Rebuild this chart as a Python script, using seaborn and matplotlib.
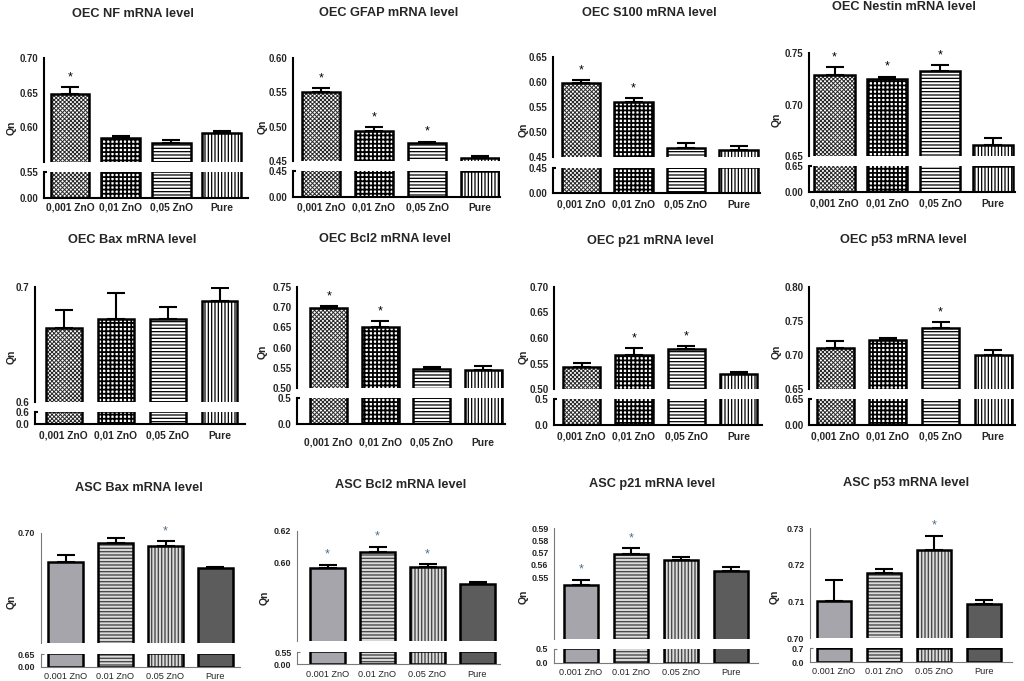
import numpy as np
import pandas as pd
import matplotlib
matplotlib.use("Agg")
import matplotlib.pyplot as plt
from matplotlib.colors import to_rgba
import seaborn as sns

# ---------------- data ----------------
categories_oec = ["0,001 ZnO", "0,01 ZnO", "0,05 ZnO", "Pure"]
categories_asc = ["0.001 ZnO", "0.01 ZnO", "0.05 ZnO", "Pure"]

# OEC NF
nf_mean = [0.648, 0.584, 0.578, 0.592]
nf_sem = [0.010, 0.003, 0.004, 0.002]
nf_sig = [1, 0, 0, 0]
nf_top_ticks = [0.55, 0.60, 0.65, 0.70]
nf_top_labels = ["", "0.60", "0.65", "0.70"]
nf_bot_ticks = [0.00, 0.55]
nf_bot_labels = ["0.00", "0.55"]

# OEC GFAP
gfap_mean = [0.550, 0.494, 0.476, 0.455]
gfap_sem = [0.006, 0.005, 0.002, 0.003]
gfap_sig = [1, 1, 1, 0]
gfap_top_ticks = [0.45, 0.50, 0.55, 0.60]
gfap_top_labels = ["0.45", "0.50", "0.55", "0.60"]
gfap_bot_ticks = [0.00, 0.45]
gfap_bot_labels = ["0.00", "0.45"]

# OEC S100
s100_mean = [0.599, 0.561, 0.469, 0.464]
s100_sem = [0.005, 0.007, 0.010, 0.008]
s100_sig = [1, 1, 0, 0]
s100_top_ticks = [0.45, 0.50, 0.55, 0.60, 0.65]
s100_top_labels = ["0.45", "0.50", "0.55", "0.60", "0.65"]
s100_bot_ticks = [0.00, 0.45]
s100_bot_labels = ["0.00", "0.45"]

# OEC Nestin
nestin_mean = [0.729, 0.725, 0.733, 0.661]
nestin_sem = [0.007, 0.002, 0.005, 0.006]
nestin_sig = [1, 1, 1, 0]
nestin_top_ticks = [0.65, 0.70, 0.75]
nestin_top_labels = ["0.65", "0.70", "0.75"]
nestin_bot_ticks = [0.00, 0.65]
nestin_bot_labels = ["0.00", "0.65"]

# OEC Bax
obax_mean = [0.664, 0.672, 0.672, 0.688]
obax_sem = [0.016, 0.023, 0.011, 0.011]
obax_sig = [0, 0, 0, 0]
obax_top_ticks = [0.6, 0.7]
obax_top_labels = ["0.6", "0.7"]
obax_bot_ticks = [0.0, 0.6]
obax_bot_labels = ["0.0", "0.6"]

# OEC Bcl2
obcl2_mean = [0.697, 0.651, 0.547, 0.544]
obcl2_sem = [0.005, 0.015, 0.006, 0.010]
obcl2_sig = [1, 1, 0, 0]
obcl2_top_ticks = [0.50, 0.55, 0.60, 0.65, 0.70, 0.75]
obcl2_top_labels = ["0.50", "0.55", "0.60", "0.65", "0.70", "0.75"]
obcl2_bot_ticks = [0.0, 0.5]
obcl2_bot_labels = ["0.0", "0.5"]

# OEC p21
op21_mean = [0.544, 0.566, 0.578, 0.529]
op21_sem = [0.007, 0.014, 0.006, 0.004]
op21_sig = [0, 1, 1, 0]
op21_top_ticks = [0.50, 0.55, 0.60, 0.65, 0.70]
op21_top_labels = ["0.50", "0.55", "0.60", "0.65", "0.70"]
op21_bot_ticks = [0.0, 0.5]
op21_bot_labels = ["0.0", "0.5"]

# OEC p53
op53_mean = [0.711, 0.722, 0.740, 0.700]
op53_sem = [0.009, 0.003, 0.008, 0.008]
op53_sig = [0, 0, 1, 0]
op53_top_ticks = [0.65, 0.70, 0.75, 0.80]
op53_top_labels = ["0.65", "0.70", "0.75", "0.80"]
op53_bot_ticks = [0.00, 0.65]
op53_bot_labels = ["0.00", "0.65"]

# ASC Bax
abax_mean = [0.6866, 0.6955, 0.6943, 0.6839]
abax_sem = [0.0033, 0.0024, 0.0019, 0.0006]
abax_sig = [0, 0, 1, 0]
abax_top_ticks = [0.65, 0.70]
abax_top_labels = ["", "0.70"]
abax_bot_ticks = [0.00, 0.65]
abax_bot_labels = ["0.00", "0.65"]

# ASC Bcl2
abcl2_mean = [0.5964, 0.6065, 0.5968, 0.5861]
abcl2_sem = [0.0021, 0.0034, 0.0022, 0.0017]
abcl2_sig = [1, 1, 1, 0]
abcl2_top_ticks = [0.55, 0.60, 0.62]
abcl2_top_labels = ["", "0.60", "0.62"]
abcl2_bot_ticks = [0.00, 0.55]
abcl2_bot_labels = ["0.00", "0.55"]

# ASC p21
ap21_mean = [0.5441, 0.5689, 0.5638, 0.5554]
ap21_sem = [0.0040, 0.0049, 0.0030, 0.0032]
ap21_sig = [1, 1, 0, 0]
ap21_top_ticks = [0.50, 0.55, 0.56, 0.57, 0.58, 0.59]
ap21_top_labels = ["", "0.55", "0.56", "0.57", "0.58", "0.59"]
ap21_bot_ticks = [0.0, 0.5]
ap21_bot_labels = ["0.0", "0.5"]

# ASC p53
ap53_mean = [0.7102, 0.7177, 0.7239, 0.7093]
ap53_sem = [0.0056, 0.0012, 0.0040, 0.0011]
ap53_sig = [0, 0, 1, 0]
ap53_top_ticks = [0.70, 0.71, 0.72, 0.73]
ap53_top_labels = ["0.70", "0.71", "0.72", "0.73"]
ap53_bot_ticks = [0.0, 0.7]
ap53_bot_labels = ["0.0", "0.7"]

panels = [
    ("OEC NF mRNA level", categories_oec, nf_mean, nf_sem, nf_sig, nf_top_ticks, nf_top_labels, nf_bot_ticks, nf_bot_labels, "oec"),
    ("OEC GFAP mRNA level", categories_oec, gfap_mean, gfap_sem, gfap_sig, gfap_top_ticks, gfap_top_labels, gfap_bot_ticks, gfap_bot_labels, "oec"),
    ("OEC S100 mRNA level", categories_oec, s100_mean, s100_sem, s100_sig, s100_top_ticks, s100_top_labels, s100_bot_ticks, s100_bot_labels, "oec"),
    ("OEC Nestin mRNA level", categories_oec, nestin_mean, nestin_sem, nestin_sig, nestin_top_ticks, nestin_top_labels, nestin_bot_ticks, nestin_bot_labels, "oec"),
    ("OEC Bax mRNA level", categories_oec, obax_mean, obax_sem, obax_sig, obax_top_ticks, obax_top_labels, obax_bot_ticks, obax_bot_labels, "oec"),
    ("OEC Bcl2 mRNA level", categories_oec, obcl2_mean, obcl2_sem, obcl2_sig, obcl2_top_ticks, obcl2_top_labels, obcl2_bot_ticks, obcl2_bot_labels, "oec"),
    ("OEC p21 mRNA level", categories_oec, op21_mean, op21_sem, op21_sig, op21_top_ticks, op21_top_labels, op21_bot_ticks, op21_bot_labels, "oec"),
    ("OEC p53 mRNA level", categories_oec, op53_mean, op53_sem, op53_sig, op53_top_ticks, op53_top_labels, op53_bot_ticks, op53_bot_labels, "oec"),
    ("ASC Bax mRNA level", categories_asc, abax_mean, abax_sem, abax_sig, abax_top_ticks, abax_top_labels, abax_bot_ticks, abax_bot_labels, "asc"),
    ("ASC Bcl2 mRNA level", categories_asc, abcl2_mean, abcl2_sem, abcl2_sig, abcl2_top_ticks, abcl2_top_labels, abcl2_bot_ticks, abcl2_bot_labels, "asc"),
    ("ASC p21 mRNA level", categories_asc, ap21_mean, ap21_sem, ap21_sig, ap21_top_ticks, ap21_top_labels, ap21_bot_ticks, ap21_bot_labels, "asc"),
    ("ASC p53 mRNA level", categories_asc, ap53_mean, ap53_sem, ap53_sig, ap53_top_ticks, ap53_top_labels, ap53_bot_ticks, ap53_bot_labels, "asc"),
]

# ---------------- layout (pixels) ----------------
# x0, x1, first bar centre, spacing, bar width, top(yt,yb), bottom(yt,yb), title(x,y), Qn(x,y), xlabel y
layout = [
    (44, 248, 70.0, 50.6, 0.77, 58, 162, 172, 198, 133, 14, 12, 128, 207),
    (293, 500, 321.0, 53.0, 0.72, 58, 161, 171, 197, 389, 13, 263, 127, 207),
    (553, 760, 581.0, 52.5, 0.73, 57, 157, 168, 193, 649, 13, 524, 130, 204),
    (809, 1015, 834.5, 52.8, 0.76, 53, 156, 166, 192, 904, 7, 777, 120, 203),
    (35, 245, 63.8, 51.9, 0.69, 287, 402, 412, 424, 132, 240, 12, 357, 435),
    (297, 505, 328.8, 51.5, 0.72, 287, 388, 398, 424, 385, 239, 263, 352, 442),
    (554, 762, 581.7, 52.3, 0.71, 287, 389, 399, 425, 650, 241, 524, 357, 436),
    (809, 1015, 835.3, 52.6, 0.70, 287, 389, 399, 425, 903, 240, 777, 352, 436),
    (41, 240, 65.5, 50.0, 0.69, 533, 643, 654, 667, 139, 488, 12, 602, 676),
    (297, 500, 327.5, 50.0, 0.70, 531, 641, 652, 664, 401, 485, 265, 598, 674),
    (554, 758, 581.0, 50.0, 0.69, 528, 639, 649, 663, 652, 484, 524, 597, 672),
    (810, 1012, 834.0, 50.0, 0.69, 528, 638, 648, 662, 906, 483, 775, 597, 671),
]

W, H = 1024, 681
sns.set_style("white")
plt.rcParams["font.family"] = ["Liberation Sans", "DejaVu Sans"]
plt.rcParams["hatch.linewidth"] = 0.9

fig = plt.figure(figsize=(W / 100, H / 100), dpi=100)


def rect(x0, x1, yt, yb):
    return [x0 / W, 1 - yb / H, (x1 - x0) / W, (yb - yt) / H]


oec_styles = [
    dict(fc="white", hatch="xxxxxxxx", hc="#2a2a2a", hlw=0.7),
    dict(fc="white", hatch="++++", hc="black", hlw=1.3),
    dict(fc="white", hatch="-----", hc="black", hlw=0.9),
    dict(fc="white", hatch="|||||", hc="black", hlw=0.9),
]
asc_styles = [
    dict(fc="#a6a5ab", hatch=None, hc=None, hlw=None),
    dict(fc="#dcdcdc", hatch="-----", hc="#4a4a4a", hlw=1.0),
    dict(fc="#dcdcdc", hatch="|||||", hc="#4a4a4a", hlw=1.0),
    dict(fc="#5c5c5c", hatch=None, hc=None, hlw=None),
]


def style_bar(p, st, lw):
    p.set_facecolor(st["fc"])
    p.set_edgecolor("black")
    p.set_linewidth(lw)
    if st["hatch"]:
        p.set_hatch(st["hatch"])
        try:
            p.set_hatchcolor(st["hc"])
        except AttributeError:
            p._hatch_color = to_rgba(st["hc"])
        try:
            p.set_hatch_linewidth(st["hlw"])
        except AttributeError:
            pass


for panel, lay in zip(panels, layout):
    (title, cats, mean, sem, sig, tt, tl, bt, bl, kind) = panel
    (x0, x1, c0, s, bw, tyt, tyb, byt, byb, tx, ty, qx, qy, xly) = lay
    asc = kind == "asc"
    styles = asc_styles if asc else oec_styles
    spine_col = "#7a7a7a" if asc else "black"
    spine_lw = 0.8 if asc else 1.5
    bar_lw = 1.8
    ytick_fs = 6.4 if asc else (6.9 if tyt < 100 else 7.1)
    xtick_fs = 6.6 if asc else 7.4
    xlim = ((x0 - c0) / s, (x1 - c0) / s)

    df = pd.DataFrame({"group": cats, "Qn": mean})
    ax_t = fig.add_axes(rect(x0, x1, tyt, tyb))
    ax_b = fig.add_axes(rect(x0, x1, byt, byb))
    for ax in (ax_t, ax_b):
        sns.barplot(data=df, x="group", y="Qn", order=cats, ax=ax, width=bw,
                    color="white", edgecolor="black", linewidth=bar_lw,
                    errorbar=None)
        for p, st in zip(ax.patches, styles):
            style_bar(p, st, bar_lw)
        ax.set_xlim(*xlim)
        ax.set_xlabel("")
        ax.set_ylabel("")
        ax.set_facecolor("none")
        for side in ("top", "right"):
            ax.spines[side].set_visible(False)
        ax.spines["left"].set_color(spine_col)
        ax.spines["left"].set_linewidth(spine_lw)
        ax.tick_params(axis="y", direction="out", length=3, width=spine_lw,
                       color=spine_col, labelsize=ytick_fs, pad=1)

    ax_t.set_ylim(tt[0], tt[-1])
    ax_b.set_ylim(bt[0], bt[-1])
    ax_t.spines["bottom"].set_visible(False)
    ax_t.set_xticks([])
    ax_t.set_yticks(tt)
    ax_t.set_yticklabels(tl, fontweight="bold")
    ax_b.set_yticks(bt)
    ax_b.set_yticklabels(bl, fontweight="bold")
    ax_b.spines["bottom"].set_color(spine_col)
    ax_b.spines["bottom"].set_linewidth(spine_lw)
    ax_b.set_xticks(range(len(cats)))
    fs_px = xtick_fs * 100 / 72
    pad_px = max(xly - byb - 3 - 0.55 * fs_px, 0)
    ax_b.set_xticklabels(cats, fontweight="normal" if asc else "bold")
    ax_b.tick_params(axis="x", direction="out", length=3, width=spine_lw,
                     color=spine_col, labelsize=xtick_fs, pad=pad_px * 72 / 100)

    # small break mark on the lower axis spine (tick crossing to the right)
    hook = 3.0 / (x1 - x0)
    ax_b.plot([0, hook], [1, 1], transform=ax_b.transAxes, color=spine_col,
              lw=spine_lw, clip_on=False, solid_capstyle="butt")

    xs = np.arange(len(cats))
    ax_t.errorbar(xs, mean, yerr=[np.zeros(len(cats)), sem], fmt="none",
                  ecolor="black", elinewidth=1.5, capsize=6.5, capthick=1.5,
                  zorder=3)
    star_col = "#4d6f8f" if asc else "black"
    for i, (m, e, g) in enumerate(zip(mean, sem, sig)):
        if g:
            ax_t.annotate("*", xy=(i, m + e), xytext=(0, 5),
                          textcoords="offset points", ha="center",
                          va="baseline", fontsize=9, color=star_col)

    fig.text(tx / W, 1 - ty / H, title, ha="center", va="center",
             fontsize=9.2, fontweight="bold")
    fig.text(qx / W, 1 - qy / H, "Qn", ha="center", va="center",
             rotation=90, fontsize=7.5, fontweight="bold")

fig.savefig("out.png", dpi=100, facecolor="white")
